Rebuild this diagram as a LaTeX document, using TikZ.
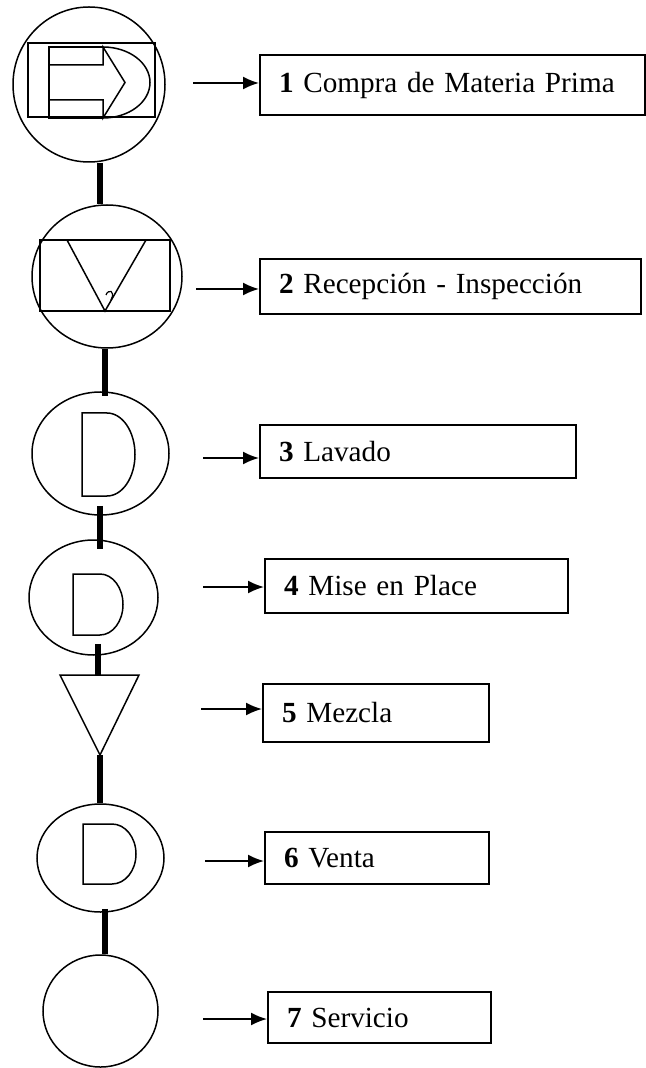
\documentclass[tikz,border=0pt]{standalone}
\usepackage{fontspec}
\setmainfont{Liberation Serif}
\usetikzlibrary{shapes.geometric,arrows.meta,calc}
\begin{document}
\begin{tikzpicture}[x=0.5pt,y=-0.5pt,
  shp/.style={draw,ellipse,line width=0.75pt,inner sep=0pt},
  sym/.style={line width=0.75pt},
  conn/.style={line width=3pt},
  lab/.style={draw,line width=1pt,rectangle,anchor=west,align=left,inner xsep=9.5pt,inner ysep=0pt,font=\fontsize{14.6}{17}\selectfont},
  arr/.style={line width=0.9pt,-{Latex[length=8pt,width=6.5pt]}}]
\useasboundingbox (0,0) rectangle (646,1068);

% process symbols
\node[shp,minimum width=76pt,minimum height=77.5pt] (s1) at (89,84.5) {};
\node[shp,minimum width=75pt,minimum height=71.5pt] (s2) at (107,276.5) {};
\node[shp,minimum width=68.5pt,minimum height=61.5pt] (s3) at (100.5,453.5) {};
\node[shp,minimum width=64.5pt,minimum height=57.5pt] (s4) at (93.5,597.5) {};
\coordinate (t5top) at (100,675);
\coordinate (t5bot) at (100,755);
\draw[sym] (60,675) -- (139,675) -- (t5bot) -- cycle;
\node[shp,minimum width=63.5pt,minimum height=54pt] (s6) at (100.5,858) {};
\node[shp,minimum width=57.5pt,minimum height=56pt] (s7) at (100.5,1011) {};

% symbol 1 contents
\draw[sym] (28,43) rectangle (155,117);
\draw[sym] (103,47) -- (49,47) -- (49,118) -- (103,118);
\draw[sym] (49,65) -- (103,65) -- (103,47) -- (125,82.5) -- (103,118) -- (103,100) -- (49,100);
\draw[sym] (103,47) arc[start angle=90,end angle=-90,x radius=23.5pt,y radius=17.75pt];

% symbol 2 contents
\draw[sym] (40,240) rectangle (170,311);
\draw[sym] (67,240) -- (105,311) -- (146,240);
\draw[sym,line width=0.6pt] (106,295) .. controls (108,289) and (116,290) .. (111,300);

% D symbols
\draw[sym] (82,413) -- (107,413) arc[start angle=90,end angle=-90,x radius=14pt,y radius=20.75pt] -- (82,496) -- cycle;
\draw[sym] (73,574) -- (100,574) arc[start angle=90,end angle=-90,x radius=11.5pt,y radius=15.25pt] -- (73,635) -- cycle;
\draw[sym] (83,824) -- (112,824) arc[start angle=90,end angle=-90,x radius=12pt,y radius=15pt] -- (83,884) -- cycle;

% thick connectors
\draw[conn] (s1.south -| 100,0) -- (s2.north -| 100,0);
\draw[conn] (s2.south -| 105,0) -- ($(s3.north -| 105,0)+(0,5)$);
\draw[conn] ($(s3.south -| 100,0)+(0,-10)$) -- ($(s4.north -| 100,0)+(0,10)$);
\draw[conn] ($(s4.south -| 98,0)+(0,-12)$) -- (t5top -| 98,0);
\draw[conn] (t5bot) -- (s6.north -| 100,0);
\draw[conn] ($(s6.south -| 105,0)+(0,-4)$) -- (s7.north -| 105,0);

% label boxes
\node[lab,text width=173.5pt,minimum height=30pt] (b1) at (259,85) {\textbf{1} Compra de Materia Prima};
\node[lab,text width=171.5pt,minimum height=27.5pt] (b2) at (259,286.5) {\textbf{2} Recepción - Inspección};
\node[lab,text width=139pt,minimum height=26.5pt] (b3) at (259,451.5) {\textbf{3} Lavado};
\node[lab,text width=132.5pt,minimum height=27pt] (b4) at (264,586) {\textbf{4} Mise en Place};
\node[lab,text width=94pt,minimum height=29pt] (b5) at (262,713) {\textbf{5} Mezcla};
\node[lab,text width=93pt,minimum height=26pt] (b6) at (264,858) {\textbf{6} Venta};
\node[lab,text width=92.5pt,minimum height=25.5pt] (b7) at (267,1017.5) {\textbf{7} Servicio};

% arrows
\coordinate (a1) at (193,83);
\coordinate (a2) at (196,289);
\coordinate (a3) at (203,458);
\coordinate (a4) at (203,587);
\coordinate (a5) at (201,709);
\coordinate (a6) at (205,861);
\coordinate (a7) at (203,1019);
\draw[arr] (a1) -- (a1 -| b1.west);
\draw[arr] (a2) -- (a2 -| b2.west);
\draw[arr] (a3) -- (a3 -| b3.west);
\draw[arr] (a4) -- (a4 -| b4.west);
\draw[arr] (a5) -- (a5 -| b5.west);
\draw[arr] (a6) -- (a6 -| b6.west);
\draw[arr] (a7) -- (a7 -| b7.west);
\end{tikzpicture}
\end{document}
